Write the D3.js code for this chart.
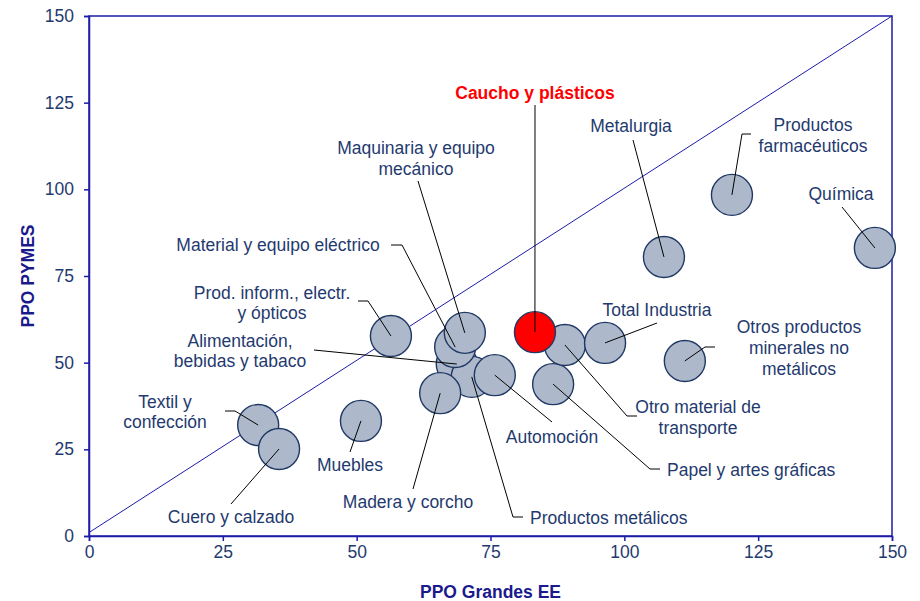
<!DOCTYPE html>
<html><head><meta charset="utf-8">
<script src="https://cdn.jsdelivr.net/npm/d3@7"></script>
<style>body{margin:0;background:#fff}svg{display:block;font-family:"Liberation Sans",Arial,sans-serif}</style>
</head><body><svg id="c" width="920" height="601"></svg>
<script>
// ---- data ----
const categories = ["Alimentación, bebidas y tabaco","Productos metálicos","Madera y corcho","Material y equipo eléctrico","Maquinaria y equipo mecánico","Automoción","Textil y confección","Cuero y calzado","Muebles","Prod. inform., electr. y ópticos","Papel y artes gráficas","Otro material de transporte","Total Industria","Caucho y plásticos","Metalurgia","Otros productos minerales no metálicos","Productos farmacéuticos","Química"];
const ppoGrandes = [68.7, 71.5, 65.6, 68.4, 70.2, 75.8, 31.6, 35.5, 50.8, 56.4, 86.7, 88.9, 96.4, 83.3, 107.4, 111.3, 120.1, 146.8];
const ppoPymes   = [49.6, 45.9, 41.2, 54.5, 58.6, 46.4, 32.0, 25.1, 33.2, 57.7, 43.8, 55.1, 55.7, 58.8, 80.5, 50.5, 98.4, 83.1];
const highlight  = "Caucho y plásticos";
const xTicks = [0,25,50,75,100,125,150];
const yTicks = [0,25,50,75,100,125,150];
const diagonal = [[0,1],[150,150]];

// ---- layout (annotation placement, pixels) ----
const labelLayout = {
 "Caucho y plásticos": {lines:["Caucho y plásticos"], x:535, y:[99], anchor:"middle", leader:[[535,105]]},
 "Metalurgia": {lines:["Metalurgia"], x:631, y:[132], anchor:"middle", leader:[[633,140]]},
 "Productos farmacéuticos": {lines:["Productos","farmacéuticos"], x:813, y:[131,152], anchor:"middle", leader:[[751,134],[742,134]]},
 "Química": {lines:["Química"], x:841, y:[200], anchor:"middle", leader:[[842,207]]},
 "Maquinaria y equipo mecánico": {lines:["Maquinaria y equipo","mecánico"], x:416, y:[154,175], anchor:"middle", leader:[[418,181]]},
 "Material y equipo eléctrico": {lines:["Material y equipo eléctrico"], x:278, y:[251], anchor:"middle", leader:[[391,245],[402,245]]},
 "Prod. inform., electr. y ópticos": {lines:["Prod. inform., electr.","y ópticos"], x:272, y:[299,319], anchor:"middle", leader:[[358,301],[368,301]]},
 "Alimentación, bebidas y tabaco": {lines:["Alimentación,","bebidas y tabaco"], x:240, y:[347,367], anchor:"middle", leader:[[314,350]]},
 "Textil y confección": {lines:["Textil y","confección"], x:165, y:[408,428], anchor:"middle", leader:[[225,411],[235,411]]},
 "Cuero y calzado": {lines:["Cuero y calzado"], x:231, y:[523], anchor:"middle", leader:[[231,504]]},
 "Muebles": {lines:["Muebles"], x:350, y:[471], anchor:"middle", leader:[[350,452]]},
 "Madera y corcho": {lines:["Madera y corcho"], x:408, y:[508], anchor:"middle", leader:[[413,489]]},
 "Productos metálicos": {lines:["Productos metálicos"], x:530, y:[524], anchor:"start", leader:[[523,517],[513,517]]},
 "Automoción": {lines:["Automoción"], x:552, y:[443], anchor:"middle", leader:[[552,422]]},
 "Papel y artes gráficas": {lines:["Papel y artes gráficas"], x:667, y:[476], anchor:"start", leader:[[660,469],[650,469]]},
 "Otro material de transporte": {lines:["Otro material de","transporte"], x:698, y:[413,434], anchor:"middle", leader:[[637,416],[627,416]]},
 "Total Industria": {lines:["Total Industria"], x:657, y:[316], anchor:"middle", leader:[[657,323]]},
 "Otros productos minerales no metálicos": {lines:["Otros productos","minerales no","metálicos"], x:799, y:[333,354,375], anchor:"middle", leader:[[715,347],[705,347]]}
};

const svg = d3.select("#c");
const m = {l:89, t:16, r:892, b:536};
const x = d3.scaleLinear().domain([0,150]).range([m.l, m.r]);
const y = d3.scaleLinear().domain([0,150]).range([m.b, m.t]);
const axisCol = "#1c1ca8", textCol = "#1f3a6e", fs = 17.5;

// frame
svg.append("rect").attr("x",m.l).attr("y",m.t).attr("width",m.r-m.l).attr("height",m.b-m.t)
  .attr("fill","none").attr("stroke",axisCol).attr("stroke-width",1.5);

// axes
const gx = svg.append("g").attr("transform",`translate(0,${m.b})`)
  .call(d3.axisBottom(x).tickValues(xTicks).tickSize(5).tickPadding(5));
const gy = svg.append("g").attr("transform",`translate(${m.l},0)`)
  .call(d3.axisLeft(y).tickValues(yTicks).tickSize(5).tickPadding(10));
[gx,gy].forEach(g=>{
  g.select(".domain").attr("stroke",axisCol).attr("stroke-width",1.5);
  g.selectAll(".tick line").attr("stroke",axisCol).attr("stroke-width",1.5);
  g.selectAll(".tick text").attr("fill",textCol).attr("font-size",fs)
   .attr("font-family","Liberation Sans, Arial, sans-serif");
});

// diagonal
svg.append("line").attr("x1",x(diagonal[0][0])).attr("y1",y(diagonal[0][1]))
  .attr("x2",x(diagonal[1][0])).attr("y2",y(diagonal[1][1]))
  .attr("stroke",axisCol).attr("stroke-width",1);

// points
const pts = categories.map((c,i)=>({c, gx:ppoGrandes[i], py:ppoPymes[i]}));
svg.append("g").selectAll("circle").data(pts).join("circle")
  .attr("cx",d=>x(d.gx)).attr("cy",d=>y(d.py)).attr("r",20.5)
  .attr("fill",d=>d.c===highlight?"#ff0000":"#adb9ca")
  .attr("stroke","#203864").attr("stroke-width",1.4);

// leaders
const line = d3.line();
svg.append("g").selectAll("path").data(pts).join("path")
  .attr("d",d=>{const L=labelLayout[d.c]; return line([...L.leader,[x(d.gx),y(d.py)]]);})
  .attr("fill","none").attr("stroke","#000").attr("stroke-width",1);

// labels
const lg = svg.append("g");
pts.forEach(d=>{
  const L = labelLayout[d.c];
  const t = lg.append("text").attr("text-anchor",L.anchor).attr("font-size",fs)
    .attr("fill",d.c===highlight?"#ff0000":textCol)
    .attr("font-weight",d.c===highlight?"bold":"normal");
  L.lines.forEach((s,i)=>t.append("tspan").attr("x",L.x).attr("y",L.y[i]).text(s));
});

// axis titles
svg.append("text").attr("x",(m.l+m.r)/2).attr("y",598).attr("text-anchor","middle")
  .attr("font-size",fs).attr("font-weight","bold").attr("fill","#1a1a8c").text("PPO Grandes EE");
svg.append("text").attr("transform",`translate(34,${(m.t+m.b)/2}) rotate(-90)`).attr("text-anchor","middle")
  .attr("font-size",fs).attr("font-weight","bold").attr("fill","#1a1a8c").text("PPO PYMES");
</script></body></html>
